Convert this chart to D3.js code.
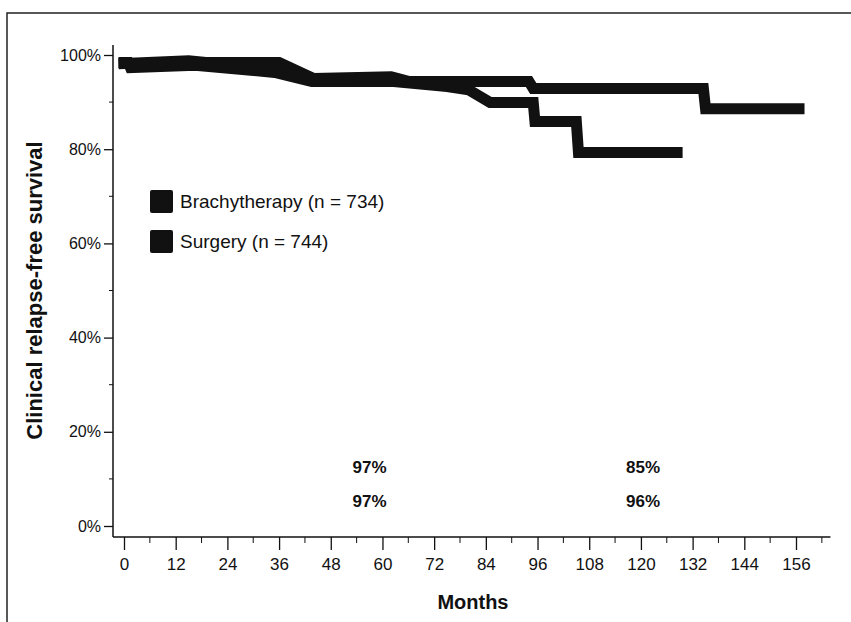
<!DOCTYPE html>
<html>
<head>
<meta charset="utf-8">
<script src="https://cdn.jsdelivr.net/npm/d3@7"></script>
<style>
  body { margin: 0; background: #fff; }
  text { font-family: "Liberation Sans", Arial, Helvetica, sans-serif; fill: #111; }
</style>
</head>
<body>
<div class="chart"></div>
<script>
// data: [month, survival %]
var surgery = [
  [0, 98.2], [15, 98.8], [19, 98.4], [36, 98.4], [44, 95.0], [62, 95.4],
  [66, 94.4], [94, 94.4], [95, 92.9], [134.5, 92.9], [135, 88.6], [156.7, 88.6]
];
var brachy = [
  [0, 98.4], [1, 98.4], [1.5, 97.3], [16.5, 97.8], [35, 96.3], [43.6, 94.4],
  [62, 94.4], [75, 93.3], [80, 92.6], [85, 89.9], [95, 89.9], [95.4, 85.9],
  [105, 85.9], [105.5, 79.3], [128.4, 79.3]
];
var legendLabels = ['Brachytherapy (n = 734)', 'Surgery (n = 744)'];
var xTicks = d3.range(0, 157, 12);
var xMinorTicks = d3.range(6, 163, 12);
var yTicks = [0, 20, 40, 60, 80, 100];
var yMinorTicks = [10, 30, 50, 70, 90];
var annoMonths = [57, 120.5];
var annoRows = [['97%', '85%'], ['97%', '96%']];

var width = 851, height = 622;

var svg = d3.select('.chart')
  .append('svg')
  .attr('width', width)
  .attr('height', height);

// scanned frame (top + left edges)
svg.append('path')
  .attr('d', 'M7,622 L7,13 L851,13')
  .style('fill', 'none')
  .style('stroke', '#222')
  .style('stroke-width', 1.5);

var xScale = d3.scaleLinear().domain([0, 156]).range([124, 796]);
var yScale = d3.scaleLinear().domain([0, 100]).range([526, 55]);

var axisY = 537;   // x axis sits a little below 0%
var axisX = 113;

// x axis
var gx = svg.append('g')
  .attr('transform', `translate(0, ${axisY})`);
gx.call(d3.axisBottom(xScale).tickValues(xTicks).tickSize(13).tickPadding(8));
gx.select('.domain').remove();
gx.append('line')
  .attr('x1', axisX).attr('x2', xScale(164))
  .style('stroke', '#111').style('stroke-width', 1.5);
gx.selectAll('.minor')
  .data(xMinorTicks)
  .enter()
  .append('line')
  .attr('class', 'minor')
  .attr('x1', d => xScale(d)).attr('x2', d => xScale(d))
  .attr('y2', 6)
  .style('stroke', '#111');
gx.selectAll('.tick line').style('stroke', '#111').style('stroke-width', 1.3);
gx.selectAll('.tick text').style('font-size', '17px');

// y axis
var gy = svg.append('g')
  .attr('transform', `translate(${axisX}, 0)`);
gy.call(d3.axisLeft(yScale).tickValues(yTicks).tickSize(9).tickPadding(3)
  .tickFormat(d => d + '%'));
gy.select('.domain').remove();
gy.append('line')
  .attr('y1', yScale(100) - 10).attr('y2', axisY)
  .style('stroke', '#111').style('stroke-width', 1.5);
gy.selectAll('.minor')
  .data(yMinorTicks)
  .enter()
  .append('line')
  .attr('class', 'minor')
  .attr('y1', d => yScale(d)).attr('y2', d => yScale(d))
  .attr('x2', -4)
  .style('stroke', '#111');
gy.selectAll('.tick line').style('stroke', '#111').style('stroke-width', 1.3);
gy.selectAll('.tick text').style('font-size', '16px');

// axis titles
svg.append('text')
  .attr('x', xScale(81)).attr('y', 609)
  .style('text-anchor', 'middle')
  .style('font-size', '20px')
  .style('font-weight', 'bold')
  .text('Months');

svg.append('text')
  .attr('transform', `translate(42, ${yScale(50)}) rotate(-90)`)
  .style('text-anchor', 'middle')
  .style('font-size', '22px')
  .style('font-weight', 'bold')
  .text('Clinical relapse-free survival');

// survival curves
var line = d3.line()
  .x(d => xScale(d[0]))
  .y(d => yScale(d[1]));

svg.selectAll('.curve')
  .data([brachy, surgery])
  .enter()
  .append('path')
  .attr('class', 'curve')
  .attr('d', d => line(d))
  .style('fill', 'none')
  .style('stroke', '#111')
  .style('stroke-width', 11)
  .style('stroke-linecap', 'square')
  .style('stroke-linejoin', 'miter');

// legend
var legend = svg.selectAll('.legend')
  .data(legendLabels)
  .enter()
  .append('g')
  .attr('class', 'legend')
  .attr('transform', (d, i) => `translate(150, ${190 + i * 40})`);

legend.append('rect')
  .attr('width', 23).attr('height', 23)
  .attr('rx', 2)
  .style('fill', '#111');

legend.append('text')
  .attr('x', 30).attr('y', 18)
  .style('font-size', '19px')
  .text(d => d);

// 5- and 10-year estimates
annoRows.forEach((row, r) => {
  svg.selectAll('.anno' + r)
    .data(row)
    .enter()
    .append('text')
    .attr('class', 'anno' + r)
    .attr('x', (d, i) => xScale(annoMonths[i]))
    .attr('y', 473 + r * 34)
    .style('text-anchor', 'middle')
    .style('font-size', '17px')
    .style('font-weight', 'bold')
    .text(d => d);
});
</script>
</body>
</html>
